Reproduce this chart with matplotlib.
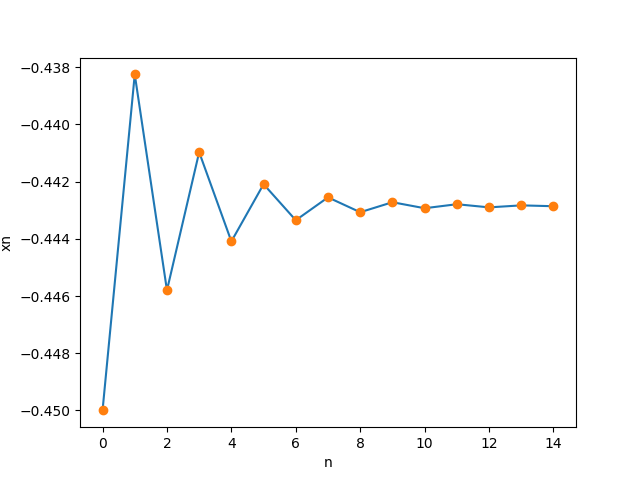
import matplotlib
matplotlib.use("Agg")
from matplotlib import pyplot as plt

n = list(range(15))
xn = [-0.45000, -0.43825, -0.44580, -0.44097, -0.44409, -0.44209,
      -0.44335, -0.44255, -0.44307, -0.44272, -0.44293, -0.44279,
      -0.44290, -0.44283, -0.44286]

fig, ax = plt.subplots(figsize=(6.4, 4.8), dpi=100)
ax.plot(n, xn)
ax.plot(n, xn, 'o')
ax.set_xlabel('n')
ax.set_ylabel('xn')
fig.savefig('out.png')
